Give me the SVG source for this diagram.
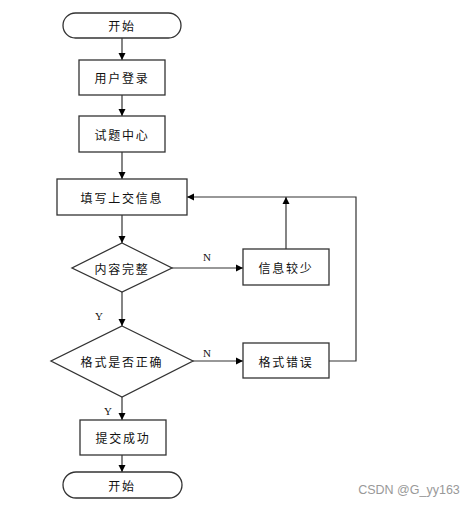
<svg xmlns="http://www.w3.org/2000/svg" width="473" height="506" viewBox="0 0 473 506">
<defs>
<marker id="ah" markerWidth="8" markerHeight="8" refX="7" refY="4" orient="auto" markerUnits="userSpaceOnUse">
<path d="M0,0.5 L7,4 L0,7.5 Z" fill="#000"/>
</marker>
<style>
.s{fill:#fff;stroke:#333;stroke-width:1.3}
.t{font-family:"Noto Sans CJK SC","Liberation Sans",sans-serif;font-size:12px;letter-spacing:1.8px;fill:#111;text-anchor:middle;dominant-baseline:central}
.l{font-family:"Liberation Serif",serif;font-size:11px;fill:#111;text-anchor:middle;dominant-baseline:central}
.c{fill:none;stroke:#333;stroke-width:1.2}
</style>
</defs>
<rect width="473" height="506" fill="#fff"/>
<g id="connectors">
<line class="c" x1="122" y1="38" x2="122" y2="60" marker-end="url(#ah)"/>
<line class="c" x1="122" y1="95" x2="122" y2="116" marker-end="url(#ah)"/>
<line class="c" x1="122" y1="152" x2="122" y2="179" marker-end="url(#ah)"/>
<line class="c" x1="122" y1="215" x2="122" y2="243" marker-end="url(#ah)"/>
<line class="c" x1="172" y1="268" x2="243" y2="268" marker-end="url(#ah)"/>
<line class="c" x1="286" y1="249" x2="286" y2="197" marker-end="url(#ah)"/>
<line class="c" x1="122" y1="292" x2="122" y2="326" marker-end="url(#ah)"/>
<line class="c" x1="193" y1="361" x2="243" y2="361" marker-end="url(#ah)"/>
<polyline class="c" points="329,361 356,361 356,197 187,197" marker-end="url(#ah)"/>
<line class="c" x1="122" y1="397" x2="122" y2="420" marker-end="url(#ah)"/>
<line class="c" x1="122" y1="455" x2="122" y2="472" marker-end="url(#ah)"/>
<text class="l" x="207" y="257">N</text>
<text class="l" x="99" y="316">Y</text>
<text class="l" x="207" y="353">N</text>
<text class="l" x="108" y="411">Y</text>
</g>
<g id="start"><rect class="s" x="63" y="13" width="118" height="25" rx="12.5"/><text class="t" x="122" y="25.5">开始</text></g>
<g id="login"><rect class="s" x="79" y="60" width="86" height="35"/><text class="t" x="122" y="77.5">用户登录</text></g>
<g id="center"><rect class="s" x="79" y="116" width="86" height="36"/><text class="t" x="122" y="134">试题中心</text></g>
<g id="fill"><rect class="s" x="57" y="179" width="130" height="36"/><text class="t" x="122" y="197">填写上交信息</text></g>
<g id="complete"><polygon class="s" points="122,243 172,268 122,292 72,268"/><text class="t" x="122" y="268">内容完整</text></g>
<g id="less"><rect class="s" x="243" y="249" width="86" height="36"/><text class="t" x="286" y="267">信息较少</text></g>
<g id="format"><polygon class="s" points="122,326 193,361 122,397 51,361"/><text class="t" x="122" y="361">格式是否正确</text></g>
<g id="error"><rect class="s" x="243" y="343" width="86" height="35"/><text class="t" x="286" y="361">格式错误</text></g>
<g id="submit"><rect class="s" x="80" y="420" width="86" height="35"/><text class="t" x="123" y="437.5">提交成功</text></g>
<g id="end"><rect class="s" x="63" y="472" width="119" height="26" rx="13"/><text class="t" x="122" y="485">开始</text></g>
<text x="409" y="490" font-family="Liberation Sans,sans-serif" font-size="12.5" fill="#999" text-anchor="middle" dominant-baseline="central">CSDN @G_yy163</text>
</svg>
